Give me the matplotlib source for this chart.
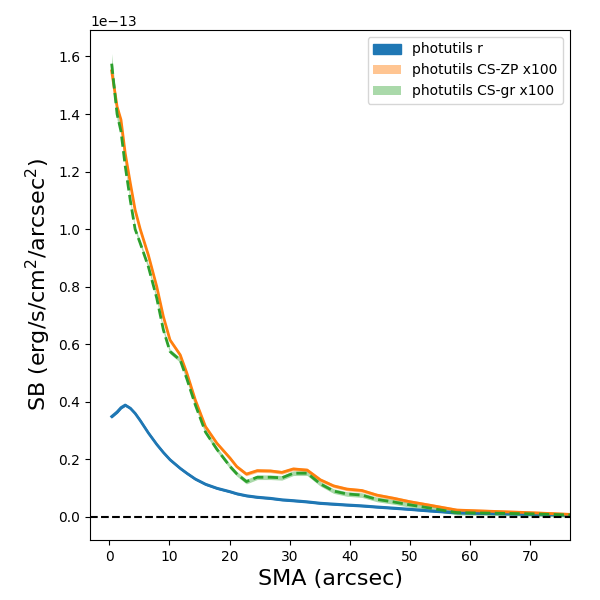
import numpy as np
import matplotlib
matplotlib.use("Agg")
import matplotlib.pyplot as plt

# semi-major axis (arcsec)
sma = [0.4, 1.3, 1.95, 2.65, 3.5, 4.3, 5.15, 6.5, 7.9, 9.0, 10.1, 11.8, 12.9,
       14.3, 16.0, 17.9, 20.1, 21.2, 22.8, 24.6, 26.8, 28.7, 30.6, 32.9, 35.1,
       37.3, 39.5, 42.0, 44.5, 47.3, 50.0, 53.0, 57.8, 64.5, 70.0, 76.6]

# surface brightness, units of 1e-13 erg/s/cm^2/arcsec^2
sb_r = [0.349, 0.365, 0.380, 0.389, 0.378, 0.360, 0.335, 0.292, 0.252, 0.224,
        0.199, 0.169, 0.152, 0.132, 0.114, 0.100, 0.088, 0.081, 0.074, 0.069,
        0.065, 0.060, 0.057, 0.053, 0.048, 0.045, 0.042, 0.039, 0.035, 0.031,
        0.027, 0.022, 0.015, 0.012, 0.010, 0.007]
sb_zp = [1.550, 1.426, 1.380, 1.264, 1.160, 1.067, 1.000, 0.910, 0.800, 0.696,
         0.615, 0.563, 0.500, 0.407, 0.314, 0.256, 0.204, 0.175, 0.149, 0.161,
         0.160, 0.155, 0.167, 0.163, 0.129, 0.108, 0.097, 0.092, 0.076, 0.065,
         0.053, 0.042, 0.024, 0.019, 0.015, 0.009]
sb_gr = [1.575, 1.400, 1.340, 1.220, 1.100, 1.000, 0.951, 0.870, 0.760, 0.650,
         0.575, 0.545, 0.480, 0.390, 0.295, 0.235, 0.175, 0.150, 0.123, 0.138,
         0.138, 0.136, 0.152, 0.152, 0.115, 0.090, 0.080, 0.076, 0.061, 0.052,
         0.042, 0.032, 0.015, 0.013, 0.011, 0.007]

# errors (same units)
err_r = [0.002] * len(sma)
err_zp = [0.006] * len(sma)
err_gr = [0.035, 0.02] + [0.008] * (len(sma) - 2)

sma = np.array(sma)
sb_r, sb_zp, sb_gr = np.array(sb_r) * 1e-13, np.array(sb_zp) * 1e-13, np.array(sb_gr) * 1e-13
err_r, err_zp, err_gr = np.array(err_r) * 1e-13, np.array(err_zp) * 1e-13, np.array(err_gr) * 1e-13

fig, ax = plt.subplots(figsize=(6, 6), dpi=100)
fig.subplots_adjust(left=0.15, right=0.95, top=0.95, bottom=0.10)

ax.fill_between(sma, sb_r - err_r, sb_r + err_r, color="C0", alpha=1.0, label="photutils r")
ax.plot(sma, sb_r, color="C0", lw=2)
ax.fill_between(sma, sb_zp - err_zp, sb_zp + err_zp, color="C1", alpha=0.45, lw=0,
                label="photutils CS-ZP x100")
ax.plot(sma, sb_zp, color="C1", lw=2)
ax.fill_between(sma, sb_gr - err_gr, sb_gr + err_gr, color="C2", alpha=0.4, lw=0,
                label="photutils CS-gr x100")
ax.plot(sma, sb_gr, color="C2", lw=2, ls="--")

ax.axhline(0, color="k", ls="--", lw=1.5)

ax.set_xlim(-3.2, 76.6)
ax.set_ylim(-0.08e-13, 1.692e-13)
ax.set_xlabel("SMA (arcsec)", fontsize=16)
ax.set_ylabel("SB (erg/s/cm$^2$/arcsec$^2$)", fontsize=16)
ax.legend(loc="upper right")

fig.savefig("out.png", dpi=100)
